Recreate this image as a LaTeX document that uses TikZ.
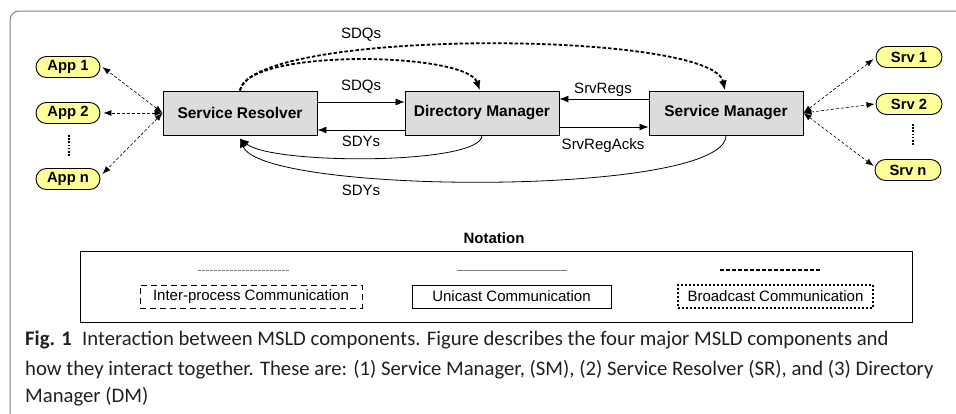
\documentclass[tikz,border=0pt]{standalone}
\usepackage{fontspec}
\setmainfont{Liberation Sans}
\newfontfamily\capfont{Carlito}
\usetikzlibrary{arrows.meta,shapes.misc}
\definecolor{boxgray}{HTML}{DCDCDC}
\definecolor{appyellow}{HTML}{FFFF99}
\definecolor{framegray}{HTML}{808080}
\definecolor{captext}{HTML}{231F20}
\begin{document}
\begin{tikzpicture}[x=1pt,y=-1pt,
  comp/.style={draw=black,line width=0.9pt,fill=boxgray,minimum width=154pt,minimum height=44pt,inner sep=0pt,font=\fontsize{15.5}{18}\selectfont\bfseries},
  endpt/.style={rounded rectangle,draw=black,line width=0.9pt,fill=appyellow,minimum width=64pt,minimum height=21pt,inner sep=0pt,font=\fontsize{14.8}{17}\selectfont\bfseries},
  lbl/.style={inner sep=0pt,font=\fontsize{15}{17}\selectfont},
  ipc/.style={line width=0.6pt,dash pattern=on 3pt off 2pt,{Latex[length=8pt,width=6pt]}-{Latex[length=8pt,width=6pt]}},
  uni/.style={line width=0.8pt,-{Latex[length=9pt,width=7pt]}},
  bcast/.style={line width=1.8pt,dash pattern=on 3.5pt off 2pt,-{Latex[length=10pt,width=8pt]}},
  vdots/.style={line width=1.3pt,dash pattern=on 1.6pt off 1.6pt},
  notebox/.style={minimum height=23pt,inner sep=0pt,font=\fontsize{15}{17}\selectfont},
  captxt/.style={anchor=base west,inner sep=0pt,text=captext,font=\capfont\fontsize{20.7}{24}\selectfont}]
\useasboundingbox (0,0) rectangle (956,413);
% frame
\draw[framegray,line width=1pt,rounded corners=9pt] (10,420) -- (10,11) -- (960,11);

% components
\node[comp] (sr) at (240,113) {Service Resolver};
\node[comp] (dm) at (482,113) {Directory Manager};
\node[comp] (sm) at (726,113) {Service Manager};

% apps
\node[endpt] (app1) at (68,67) {App 1};
\node[endpt] (app2) at (68,113) {App 2};
\node[endpt] (appn) at (68,179) {App n};
\coordinate (ad1) at (69,135);
\coordinate (ad2) at (69,157);
\draw[vdots] (ad1) -- (ad2);

% services
\node[endpt,minimum width=66pt] (srv1) at (909,57) {Srv 1};
\node[endpt,minimum width=66pt] (srv2) at (909,104) {Srv 2};
\node[endpt,minimum width=66pt] (srvn) at (908,170) {Srv n};
\coordinate (sd1) at (913,124);
\coordinate (sd2) at (913,146);
\draw[vdots] (sd1) -- (sd2);

% inter-process
\draw[ipc] (sr.west) -- ([xshift=2pt]app1.east);
\draw[ipc] (sr.west) -- ([xshift=3pt]app2.east);
\draw[ipc] (sr.west) -- ([xshift=2pt,yshift=5pt]appn.east);
\draw[ipc] (sm.east) -- ([xshift=-2pt,yshift=-2pt]srv1.west);
\draw[ipc] (sm.east) -- ([xshift=-1pt]srv2.west);
\draw[ipc] (sm.east) -- ([xshift=-1pt,yshift=4pt]srvn.west);

% unicast
\draw[uni] ([yshift=11pt]sr.east) -- ([yshift=11pt]dm.west);
\draw[uni] ([yshift=-17pt]dm.west) -- ([yshift=-17pt]sr.east);
\draw[uni] ([yshift=14pt]sm.west) -- ([yshift=14pt]dm.east);
\draw[uni] ([yshift=-14pt]dm.east) -- ([yshift=-14pt]sm.west);
\node[lbl] (l1) at (361,87) {SDQs};
\node[lbl] (l2) at (361,141) {SDYs};
\node[lbl] (l3) at (603,90) {SrvRegs};
\node[lbl] (l4) at (603,146) {SrvRegAcks};

% curved unicast replies
\draw[uni] (dm.south) .. controls (482,165) and (272,165) .. ([yshift=-3pt]sr.south);
\draw[uni] (sm.south) .. controls (726,197) and (262,195) .. ([yshift=-3pt]sr.south);
\node[lbl] (l5) at (361,190) {SDYs};

% broadcast
\draw[bcast] (sr.north) .. controls (246,48) and (466,52) .. ([xshift=-2pt]dm.north);
\draw[bcast] (sr.north) .. controls (252,28) and (712,30) .. ([xshift=-1pt]sm.north);
\node[lbl] (l6) at (361,35) {SDQs};

% notation
\node[inner sep=0pt,font=\fontsize{15}{17}\selectfont\bfseries] (nt) at (494,238) {Notation};
\node[draw=black,line width=0.9pt,minimum width=832pt,minimum height=71pt,inner sep=0pt] (nbox) at (496,286.5) {};
\coordinate (s1a) at (198,270); \coordinate (s1b) at (290,270);
\coordinate (s2a) at (457,270); \coordinate (s2b) at (567,270);
\coordinate (s3a) at (720,270); \coordinate (s3b) at (821,270);
\draw[framegray,line width=0.9pt,dash pattern=on 2.5pt off 1.5pt] (s1a) -- (s1b);
\draw[framegray,line width=0.9pt] (s2a) -- (s2b);
\draw[black,line width=1.6pt,dash pattern=on 3.5pt off 2.5pt] (s3a) -- (s3b);
\node[notebox,draw=black,line width=1pt,dash pattern=on 6pt off 4pt,minimum width=222pt] (n1) at (251,296.5) {Inter-process Communication};
\node[notebox,draw=black,line width=0.9pt,minimum width=199pt] (n2) at (511.5,296.5) {Unicast Communication};
\node[notebox,draw=black,line width=1.5pt,dash pattern=on 2pt off 2pt,minimum width=195pt] (n3) at (775.5,296.5) {Broadcast Communication};

% caption
\node[captxt] (c1) at (25,345) {\textbf{Fig. 1}\hspace{0.5em}Interaction between MSLD components. Figure describes the four major MSLD components and};
\node[captxt] (c2) at (25,375) {how they interact together. These are: (1) Service Manager, (SM), (2) Service Resolver (SR), and (3) Directory};
\node[captxt] (c3) at (25,402) {Manager (DM)};
\end{tikzpicture}
\end{document}
